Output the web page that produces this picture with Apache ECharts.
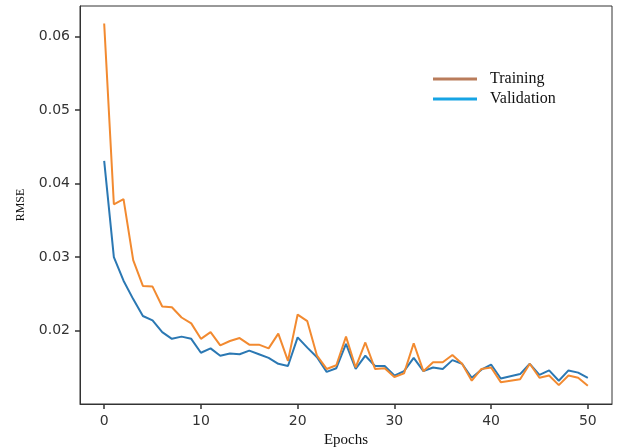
<!DOCTYPE html>
<html>
<head>
<meta charset="utf-8">
<script src="https://cdn.jsdelivr.net/npm/echarts@6/dist/echarts.min.js"></script>
<style>html,body{margin:0;padding:0;background:#fff;}#c{width:620px;height:447px;}</style>
</head>
<body>
<div id="c"></div>
<script>
const epochs = [0,1,2,3,4,5,6,7,8,9,10,11,12,13,14,15,16,17,18,19,20,21,22,23,24,25,26,27,28,29,30,31,32,33,34,35,36,37,38,39,40,41,42,43,44,45,46,47,48,49,50];
const training = [0.0618,0.0372,0.0379,0.0296,0.0261,0.0260,0.0233,0.0232,0.0218,0.0210,0.0189,0.0198,0.0180,0.0186,0.0190,0.0181,0.0181,0.0176,0.0196,0.0159,0.0222,0.0213,0.0166,0.0148,0.0153,0.0192,0.0150,0.0184,0.0148,0.0149,0.0137,0.0142,0.0183,0.0145,0.0157,0.0157,0.0167,0.0155,0.0132,0.0148,0.0150,0.0130,0.0132,0.0134,0.0155,0.0136,0.0139,0.0126,0.0139,0.0136,0.0125];
const validation = [0.0431,0.0300,0.0268,0.0243,0.0220,0.0214,0.0198,0.0189,0.0192,0.0189,0.0170,0.0176,0.0166,0.0169,0.0168,0.0173,0.0168,0.0163,0.0155,0.0152,0.0191,0.0177,0.0164,0.0144,0.0149,0.0182,0.0148,0.0166,0.0152,0.0152,0.0139,0.0145,0.0163,0.0145,0.0150,0.0148,0.0160,0.0155,0.0136,0.0147,0.0154,0.0135,0.0138,0.0141,0.0155,0.0140,0.0146,0.0132,0.0146,0.0143,0.0136];
const xTicks = [0,10,20,30,40,50];
const yTicks = [0.02,0.03,0.04,0.05,0.06];

const chart = echarts.init(document.getElementById('c'), null, {renderer:'canvas'});
const tickFont = {fontFamily:'DejaVu Sans', fontSize:14, color:'#333'};
chart.setOption({
  animation:false,
  backgroundColor:'#fff',
  grid:{left:80, right:8, top:6, bottom:43, outerBoundsMode:'none', containLabel:false,
        show:true, borderColor:'#333', borderWidth:1, backgroundColor:'transparent'},
  legend:{
    orient:'vertical', left:428, top:66, itemWidth:44, itemHeight:3, itemGap:4,
    icon:'rect',
    textStyle:{fontFamily:'Liberation Serif', fontSize:16, color:'#111', padding:[0,0,0,8]},
    data:[
      {name:'Training', itemStyle:{color:'#b97c5b'}, lineStyle:{color:'#b97c5b'}},
      {name:'Validation', itemStyle:{color:'#16a4e4'}, lineStyle:{color:'#16a4e4'}}
    ]
  },
  xAxis:{
    type:'value', min:-2.5, max:52.5,
    name:'Epochs', nameLocation:'middle', nameGap:29, nameMoveOverlap:false,
    nameTextStyle:{fontFamily:'Liberation Serif', fontSize:15, color:'#111'},
    axisLine:{show:true, onZero:false, lineStyle:{color:'#333', width:1}},
    axisTick:{show:true, length:5, customValues:xTicks, lineStyle:{color:'#333', width:1.5}},
    axisLabel:Object.assign({margin:10, customValues:xTicks}, tickFont),
    splitLine:{show:false}
  },
  yAxis:{
    type:'value', min:0.01003, max:0.06418,
    name:'RMSE', nameLocation:'middle', nameGap:53, nameRotate:90, nameMoveOverlap:false,
    nameTextStyle:{fontFamily:'Liberation Serif', fontSize:12, color:'#111'},
    axisLine:{show:true, onZero:false, lineStyle:{color:'#333', width:1}},
    axisTick:{show:true, length:5, customValues:yTicks, lineStyle:{color:'#333', width:1.5}},
    axisLabel:Object.assign({margin:10, customValues:yTicks, formatter:v=>v.toFixed(2)}, tickFont),
    splitLine:{show:false}
  },
  series:[
    {name:'Validation', type:'line', symbol:'none', data:epochs.map((e,i)=>[e, validation[i]]),
     lineStyle:{color:'#2b78b3', width:2}, itemStyle:{color:'#2b78b3'}},
    {name:'Training', type:'line', symbol:'none', data:epochs.map((e,i)=>[e, training[i]]),
     lineStyle:{color:'#f28a30', width:2}, itemStyle:{color:'#f28a30'}}
  ]
});
</script>
</body>
</html>
